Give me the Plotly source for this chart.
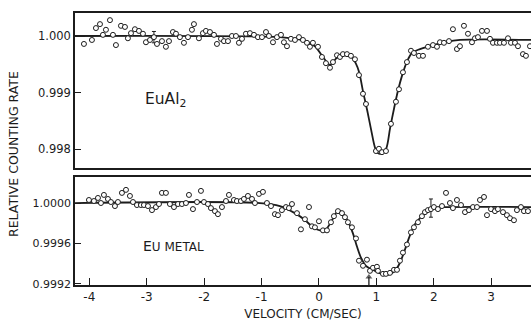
import plotly.graph_objects as go

# ---------------- data: EuAl2 (top panel) ----------------
eual2_v = [-4.094, -3.955, -3.885, -3.815, -3.763, -3.711, -3.641, -3.589, -3.537, -3.449,
           -3.380, -3.328, -3.275, -3.206, -3.136, -3.066, -3.014, -2.944, -2.875, -2.822,
           -2.735, -2.666, -2.613, -2.544, -2.491, -2.422, -2.352, -2.282, -2.213, -2.178,
           -2.091, -2.021, -1.969, -1.899, -1.829, -1.777, -1.707, -1.655, -1.585, -1.516,
           -1.446, -1.394, -1.341, -1.272, -1.202, -1.132, -1.063, -0.993, -0.923, -0.871,
           -0.801, -0.732, -0.662, -0.610, -0.557, -0.488, -0.418, -0.348, -0.279, -0.209,
           -0.157, -0.105, -0.017, 0.052, 0.122, 0.192, 0.244, 0.314, 0.366, 0.418,
           0.488, 0.557, 0.627, 0.697, 0.767, 0.819, 0.993, 1.045, 1.098, 1.167,
           1.254, 1.341, 1.394, 1.463, 1.533, 1.603, 1.655, 1.742, 1.812, 1.899,
           1.986, 2.056, 2.108, 2.178, 2.265, 2.334, 2.404, 2.456, 2.526, 2.596,
           2.666, 2.718, 2.770, 2.840, 2.927, 2.979, 3.031, 3.101, 3.153, 3.223,
           3.293, 3.345, 3.415, 3.467, 3.554, 3.606, 3.676]
eual2_rate = [0.99986, 0.99993, 1.00014, 1.00021, 1.00002, 1.00011, 1.00028, 1.00002, 0.99984, 1.00018,
              1.00016, 0.99996, 1.00005, 1.00012, 1.00009, 1.00004, 0.99989, 0.99993, 0.99998, 0.99986,
              0.99991, 0.99981, 0.99991, 1.00007, 1.00004, 0.99998, 0.99988, 0.99998, 1.00011, 1.00021,
              0.99996, 1.00005, 1.00009, 1.00007, 1.00002, 0.99986, 0.99995, 0.99991, 0.99991, 1.00000,
              1.00000, 0.99988, 0.99995, 1.00004, 1.00005, 1.00002, 0.99998, 0.99998, 1.00007, 1.00000,
              0.99989, 0.99998, 1.00002, 0.99989, 0.99982, 0.99995, 0.99993, 0.99998, 0.99993, 0.99988,
              0.99981, 0.99988, 0.99981, 0.99963, 0.99952, 0.99944, 0.99954, 0.99966, 0.99963, 0.99968,
              0.99968, 0.99965, 0.99959, 0.99931, 0.99898, 0.99880, 0.99797, 0.99801, 0.99795, 0.99797,
              0.99845, 0.99884, 0.99906, 0.99936, 0.99954, 0.99974, 0.99970, 0.99965, 0.99965, 0.99981,
              0.99984, 0.99981, 0.99989, 0.99988, 0.99991, 1.00012, 0.99977, 0.99982, 1.00018, 1.00004,
              0.99989, 0.99996, 0.99998, 1.00009, 1.00009, 0.99995, 0.99988, 0.99988, 0.99988, 0.99988,
              0.99996, 0.99988, 0.99988, 0.99982, 0.99968, 0.99965, 0.99982]

eual2_fit_v = [-4.25, -0.68, -0.42, -0.24, -0.07, 0.05, 0.19, 0.31, 0.45, 0.57,
               0.64, 0.70, 0.77, 0.84, 0.91, 0.98, 1.03, 1.10, 1.17, 1.24,
               1.31, 1.38, 1.45, 1.53, 1.62, 1.76, 1.93, 2.20, 2.46, 3.70]
eual2_fit_rate = [1.00000, 0.99998, 0.99995, 0.99991, 0.99982, 0.99966, 0.99949, 0.99961, 0.99966, 0.99963,
                  0.99952, 0.99936, 0.99901, 0.99869, 0.99834, 0.99802, 0.99793, 0.99793, 0.99801, 0.99838,
                  0.99873, 0.99905, 0.99931, 0.99954, 0.99970, 0.99977, 0.99982, 0.99989, 0.99993, 0.99993]

eual2_err_v = [-2.875]
eual2_err_rate = [0.99998]
eual2_err = [0.00010]

# ---------------- data: Eu metal (bottom panel) ----------------
eu_v = [-4.007, -3.920, -3.850, -3.798, -3.746, -3.676, -3.624, -3.554, -3.502, -3.432,
        -3.362, -3.293, -3.240, -3.171, -3.101, -3.049, -2.979, -2.909, -2.840, -2.787,
        -2.735, -2.666, -2.596, -2.526, -2.456, -2.387, -2.317, -2.265, -2.195, -2.125,
        -2.056, -2.003, -1.934, -1.882, -1.812, -1.760, -1.690, -1.620, -1.568, -1.481,
        -1.429, -1.359, -1.307, -1.237, -1.167, -1.115, -1.045, -0.976, -0.906, -0.836,
        -0.767, -0.714, -0.645, -0.575, -0.523, -0.470, -0.383, -0.314, -0.244, -0.174,
        -0.122, -0.070, 0.000, 0.070, 0.139, 0.209, 0.261, 0.331, 0.401, 0.453,
        0.505, 0.575, 0.645, 0.697, 0.767, 0.836, 0.889, 0.941, 1.010, 1.028,
        1.115, 1.167, 1.237, 1.307, 1.359, 1.411, 1.463, 1.533, 1.603, 1.655,
        1.725, 1.794, 1.847, 1.899, 1.951, 2.003, 2.073, 2.143, 2.213, 2.282,
        2.334, 2.404, 2.474, 2.544, 2.613, 2.683, 2.753, 2.805, 2.875, 2.927,
        2.997, 3.066, 3.118, 3.206, 3.275, 3.328, 3.397, 3.449, 3.519, 3.571,
        3.641]
eu_rate = [1.00003, 1.00002, 1.00005, 1.00000, 1.00008, 1.00004, 1.00001, 0.99997, 1.00001, 1.00010,
           1.00013, 1.00007, 1.00001, 0.99998, 0.99998, 0.99998, 0.99997, 0.99993, 0.99996, 0.99999,
           1.00010, 1.00010, 0.99999, 0.99996, 0.99999, 0.99999, 1.00000, 1.00008, 0.99994, 1.00001,
           1.00012, 1.00001, 0.99999, 0.99995, 0.99992, 0.99989, 0.99996, 1.00002, 1.00008, 1.00003,
           1.00002, 1.00002, 1.00004, 1.00007, 1.00004, 1.00000, 1.00009, 1.00011, 1.00000, 0.99997,
           0.99989, 0.99988, 0.99993, 0.99996, 0.99995, 0.99999, 0.99990, 0.99974, 0.99984, 0.99996,
           0.99977, 0.99976, 0.99982, 0.99973, 0.99973, 0.99981, 0.99987, 0.99992, 0.99990, 0.99986,
           0.99981, 0.99976, 0.99965, 0.99943, 0.99938, 0.99944, 0.99933, 0.99936, 0.99937, 0.99933,
           0.99930, 0.99930, 0.99931, 0.99934, 0.99934, 0.99943, 0.99951, 0.99959, 0.99971, 0.99976,
           0.99981, 0.99987, 0.99991, 0.99993, 0.99994, 0.99996, 0.99994, 0.99997, 1.00010, 1.00000,
           0.99995, 1.00003, 0.99998, 0.99991, 0.99993, 0.99996, 0.99996, 1.00003, 1.00006, 0.99988,
           0.99994, 0.99992, 0.99994, 0.99991, 0.99988, 0.99985, 0.99983, 0.99993, 0.99996, 0.99992,
           0.99992]

eu_fit_v = [-4.25, -1.03, -0.68, -0.42, -0.24, -0.105, 0.017, 0.122, 0.226, 0.331,
            0.401, 0.505, 0.592, 0.662, 0.732, 0.819, 0.976, 1.098, 1.202, 1.324,
            1.411, 1.498, 1.585, 1.672, 1.760, 1.864, 1.969, 2.195, 3.70]
eu_fit_rate = [1.00000, 1.00000, 0.99997, 0.99990, 0.99983, 0.99976, 0.99973, 0.99974, 0.99983, 0.99992,
               0.99991, 0.99982, 0.99970, 0.99957, 0.99946, 0.99938, 0.99933, 0.99930, 0.99929, 0.99933,
               0.99941, 0.99954, 0.99968, 0.99979, 0.99985, 0.99991, 0.99995, 0.99996, 0.99996]

eu_err_v = [1.951]
eu_err_rate = [0.99995]
eu_err = [0.00009]

# arrow marking a velocity on the Eu metal spectrum (from axis up to tip)
arrow_v = [0.87, 0.87]
arrow_rate = [0.99919, 0.99927]

x_ticks = [-4, -3, -2, -1, 0, 1, 2, 3]
x_tick_labels = ["-4", "-3", "-2", "-1", "0", "1", "2", "3"]
eual2_ticks = [0.998, 0.999, 1.000]
eual2_tick_labels = ["0.998", "0.999", "1.000"]
eu_ticks = [0.9992, 0.9996, 1.0000]
eu_tick_labels = ["0.9992", "0.9996", "1.0000"]

INK = "#1c1c1c"
FONT = "DejaVu Sans"
marker = dict(symbol="circle", size=5, color="white", line=dict(color=INK, width=1))

fig = go.Figure()
# top panel
fig.add_trace(go.Scatter(x=eual2_fit_v, y=eual2_fit_rate, mode="lines",
                         line=dict(color=INK, width=1.8, shape="spline", smoothing=0.9),
                         xaxis="x", yaxis="y", hoverinfo="skip"))
fig.add_trace(go.Scatter(x=eual2_err_v, y=eual2_err_rate, mode="markers",
                         marker=dict(size=1, color="rgba(0,0,0,0)"),
                         error_y=dict(type="data", array=eual2_err, color=INK, thickness=1, width=2),
                         xaxis="x", yaxis="y"))
fig.add_trace(go.Scatter(x=eual2_v, y=eual2_rate, mode="markers", marker=marker,
                         xaxis="x", yaxis="y"))
# bottom panel
fig.add_trace(go.Scatter(x=eu_fit_v, y=eu_fit_rate, mode="lines",
                         line=dict(color=INK, width=1.8, shape="spline", smoothing=0.9),
                         xaxis="x2", yaxis="y2", hoverinfo="skip"))
fig.add_trace(go.Scatter(x=eu_err_v, y=eu_err_rate, mode="markers",
                         marker=dict(size=1, color="rgba(0,0,0,0)"),
                         error_y=dict(type="data", array=eu_err, color=INK, thickness=1, width=2),
                         xaxis="x2", yaxis="y2"))
fig.add_trace(go.Scatter(x=eu_v, y=eu_rate, mode="markers", marker=marker,
                         xaxis="x2", yaxis="y2"))
fig.add_trace(go.Scatter(x=arrow_v, y=arrow_rate, mode="lines+markers",
                         line=dict(color=INK, width=1.3),
                         marker=dict(symbol=["line-ew", "triangle-up"], size=[1, 6], color=INK,
                                     line=dict(width=0)),
                         xaxis="x2", yaxis="y2", hoverinfo="skip", cliponaxis=False))

axis_common = dict(showgrid=False, zeroline=False, showline=True, linecolor=INK, linewidth=1.5)
xr = [-4.25, 3.694]

fig.update_layout(
    width=531, height=322,
    margin=dict(l=75, r=0, t=13, b=37),
    paper_bgcolor="white", plot_bgcolor="white",
    showlegend=False,
    font=dict(family=FONT, color=INK, size=12),
    xaxis=dict(domain=[0, 1], range=xr, anchor="y", mirror=True, ticks="",
               showticklabels=False, **axis_common),
    yaxis=dict(domain=[0.430, 1], range=[0.99767, 1.000406], anchor="x",
               tickvals=eual2_ticks, ticktext=eual2_tick_labels, ticks="inside",
               ticklen=6, tickwidth=1.2, tickcolor=INK, tickfont=dict(size=11.5),
               mirror=False, **axis_common),
    xaxis2=dict(domain=[0, 1], range=xr, anchor="y2", mirror=True,
                tickvals=x_ticks, ticktext=x_tick_labels, ticks="inside",
                ticklen=7, tickwidth=1.2, tickcolor=INK, tickfont=dict(size=12),
                title=dict(text="VELOCITY (CM/SEC)", font=dict(size=12), standoff=6),
                **axis_common),
    yaxis2=dict(domain=[0, 0.397], range=[0.99919, 1.000257], anchor="x2",
                tickvals=eu_ticks, ticktext=eu_tick_labels, ticks="inside",
                ticklen=6, tickwidth=1.2, tickcolor=INK, tickfont=dict(size=11),
                mirror=False, **axis_common),
    annotations=[
        dict(text="RELATIVE COUNTING RATE", xref="paper", yref="paper",
             x=-0.136, y=0.4816, textangle=-90, showarrow=False,
             font=dict(size=12.5), xanchor="center", yanchor="middle"),
        dict(text="EuAl<sub>2</sub>", xref="x", yref="y", x=-2.68, y=0.99887,
             showarrow=False, font=dict(size=15.5), xanchor="center", yanchor="middle"),
        dict(text="E<span style='font-size:12px'>U METAL</span>", xref="x2", yref="y2",
             x=-2.54, y=0.99958, showarrow=False, font=dict(size=14),
             xanchor="center", yanchor="middle"),
    ],
)

fig.write_html("out.html")
